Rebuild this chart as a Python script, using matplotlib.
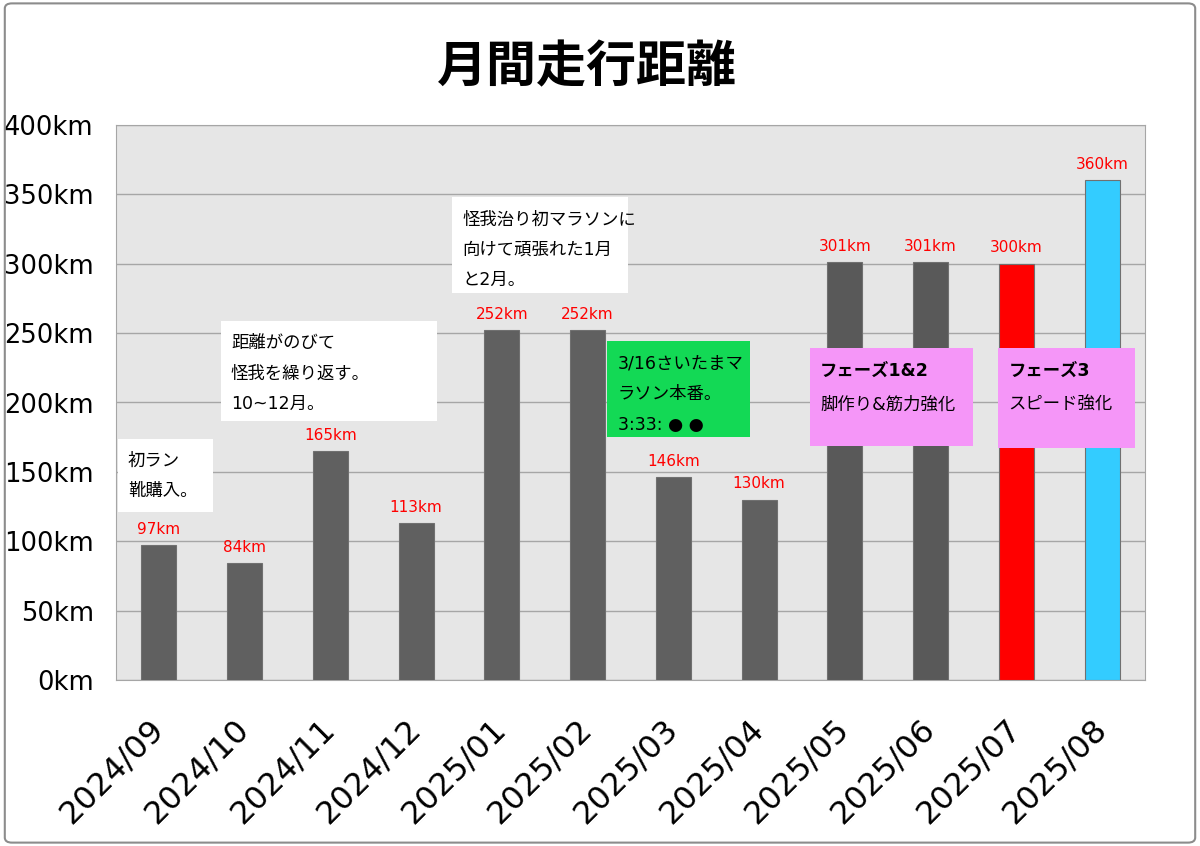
import matplotlib.pyplot as plt
from matplotlib.patches import FancyBboxPatch, Rectangle
from matplotlib.transforms import ScaledTranslation

plt.rcParams['font.family'] = ['DejaVu Sans', 'Noto Sans CJK JP']

months = ['2024/09', '2024/10', '2024/11', '2024/12', '2025/01', '2025/02',
          '2025/03', '2025/04', '2025/05', '2025/06', '2025/07', '2025/08']
distance = [97, 84, 165, 113, 252, 252, 146, 130, 301, 301, 300, 360]
bar_colors = ['#606060'] * 8 + ['#595959', '#595959', '#FF0000', '#33CCFF']
y_ticks = [0, 50, 100, 150, 200, 250, 300, 350, 400]

# annotation boxes: (x0, x1, y0, y1) in data units, text, colour, bold first line
notes = [
    ((-0.48, 0.63, 121, 174), '初ラン\n靴購入。', 'white', False),
    ((0.72, 3.24, 187, 259), '距離がのびて\n怪我を繰り返す。\n10~12月。', 'white', False),
    ((3.42, 5.47, 279, 348), '怪我治り初マラソンに\n向けて頑張れた1月\nと2月。', 'white', False),
    ((5.23, 6.89, 175, 244), '3/16さいたまマ\nラソン本番。\n3:33: ● ●', '#13D955', False),
    ((7.59, 9.49, 169, 239), 'フェーズ1&2\n脚作り&筋力強化', '#F596F8', True),
    ((9.79, 11.38, 167, 239), 'フェーズ3\nスピード強化', '#F596F8', True),
]

fig = plt.figure(figsize=(12, 8.46), dpi=100)
ax = fig.add_axes([116 / 1200, 1 - 680 / 846, 1029 / 1200, 555 / 846])
ax.set_facecolor('#E6E6E6')

x = range(len(months))
ax.bar(x, distance, width=0.41, color=bar_colors, edgecolor='#707070',
       linewidth=0.8, zorder=3)
for i, v in enumerate(distance):
    ax.text(i, v + 6, f'{v}km', color='red', ha='center', va='bottom',
            fontsize=11, zorder=5)

ax.set_xlim(-0.5, len(months) - 0.5)
ax.set_ylim(0, 400)
ax.set_yticks(y_ticks)
ax.set_yticklabels([f'{t}km' for t in y_ticks], fontsize=18.5)
ax.set_xticks(list(x))
ax.set_xticklabels(months, rotation=45, ha='right', rotation_mode='anchor',
                   fontsize=23)
ax.tick_params(length=0)
ax.tick_params(axis='y', pad=16)
ax.tick_params(axis='x', pad=24)
# nudge rotated labels a bit left, like the original
shift = ScaledTranslation(-0.11, 0, fig.dpi_scale_trans)
for lab in ax.get_xticklabels():
    lab.set_transform(lab.get_transform() + shift)
ax.grid(axis='y', color='#A6A6A6', linewidth=1, zorder=0)
for s in ax.spines.values():
    s.set_color('#A6A6A6')

for (x0, x1, y0, y1), txt, col, bold in notes:
    ax.add_patch(Rectangle((x0, y0), x1 - x0, y1 - y0, facecolor=col,
                           edgecolor='none', zorder=6))
    lines = txt.split('\n')
    step = 24.5 if bold else 22
    for k, line in enumerate(lines):
        ax.text(x0 + 0.12, y1 - 16 - k * step, line, fontsize=12.5,
                ha='left', va='center', zorder=7,
                fontweight='bold' if (bold and k == 0) else 'normal')

fig.text(587 / 1200, 1 - 68 / 846, '月間走行距離', ha='center', va='center',
         fontsize=36, fontweight='bold', family=['Noto Sans CJK JP'])

fig.patches.append(FancyBboxPatch((0.004, 0.004), 0.992, 0.992,
                                  boxstyle='round,pad=0,rounding_size=0.006',
                                  transform=fig.transFigure, facecolor='none',
                                  edgecolor='#8C8C8C', linewidth=1.5))

fig.savefig('out.png', dpi=100)
